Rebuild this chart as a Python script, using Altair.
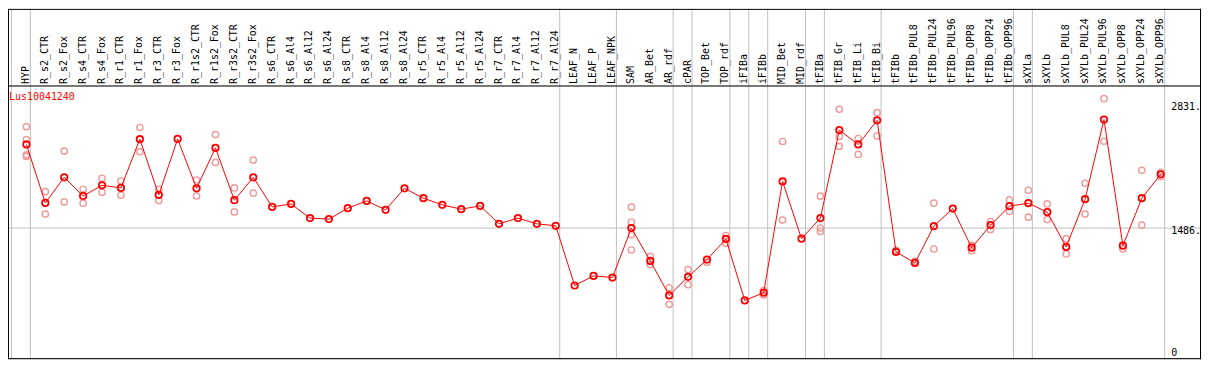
import altair as alt
import pandas as pd

gene_id = "Lus10041240"

samples = [
    "HYP", "R_s2_CTR", "R_s2_Fox", "R_s4_CTR", "R_s4_Fox", "R_r1_CTR", "R_r1_Fox",
    "R_r3_CTR", "R_r3_Fox", "R_r1s2_CTR", "R_r1s2_Fox", "R_r3s2_CTR", "R_r3s2_Fox",
    "R_s6_CTR", "R_s6_Al4", "R_s6_Al12", "R_s6_Al24", "R_s8_CTR", "R_s8_Al4",
    "R_s8_Al12", "R_s8_Al24", "R_r5_CTR", "R_r5_Al4", "R_r5_Al12", "R_r5_Al24",
    "R_r7_CTR", "R_r7_Al4", "R_r7_Al12", "R_r7_Al24", "LEAF_N", "LEAF_P", "LEAF_NPK",
    "SAM", "AR_Bet", "AR_rdf", "cPAR", "TOP_Bet", "TOP_rdf", "iFIBa", "iFIBb",
    "MID_Bet", "MID_rdf", "tFIBa", "tFIB_Gr", "tFIB_Li", "tFIB_Bi", "tFIBb",
    "tFIBb_PUL8", "tFIBb_PUL24", "tFIBb_PUL96", "tFIBb_OPP8", "tFIBb_OPP24",
    "tFIBb_OPP96", "sXYLa", "sXYLb", "sXYLb_PUL8", "sXYLb_PUL24", "sXYLb_PUL96",
    "sXYLb_OPP8", "sXYLb_OPP24", "sXYLb_OPP96",
]

means = [
    2390, 1758, 2035, 1833, 1949, 1920, 2447, 1844, 2450, 1916,
    2353, 1787, 2035, 1715, 1747, 1594, 1583, 1701, 1780, 1683,
    1916, 1809, 1737, 1690, 1726, 1532, 1594, 1532, 1511, 865,
    969, 951, 1486, 1131, 758, 959, 1145, 1368, 704, 787,
    1990, 1371, 1594, 2546, 2390, 2651, 1228, 1109, 1507, 1697,
    1274, 1518, 1723, 1755, 1658, 1282, 1798, 2659, 1296, 1809, 2067,
]

replicates = [
    [2583, 2444, 2278, 2261], [1880, 1637], [2318, 1769], [1906, 1755], [2024, 1873],
    [1995, 1841], [2573, 2310], [1906, 1783], [], [2006, 1833],
    [2497, 2196], [1920, 1661], [2221, 1863], [], [],
    [], [], [], [], [],
    [], [], [], [], [],
    [], [], [], [], [],
    [], [], [1712, 1551, 1414, 1249], [1180, 1091], [840, 661],
    [1037, 873], [1116], [1406, 1320], [], [811, 761],
    [2422, 1572], [], [1831, 1486, 1449], [2770, 2477, 2369], [2454, 2282],
    [2734, 2482], [1245], [1127], [1755, 1260], [],
    [1299, 1242], [1557, 1468], [1790, 1665], [1895, 1604], [1747, 1578],
    [1371, 1206], [1970, 1637], [2885, 2425], [1260], [2110, 1518], [2089, 2041],
]

group_ends = ["HYP", "R_r7_Al24", "LEAF_NPK", "AR_rdf", "cPAR", "TOP_rdf", "iFIBa",
              "iFIBb", "MID_rdf", "tFIBa", "tFIB_Bi", "tFIBb_OPP96", "sXYLa", "sXYLb_OPP96"]

grid_values = [1486]
ytick_top_values = [2831, 1486]
ytick_top_labels = ["2831.", "1486."]
ytick_bottom_values = [0]
ytick_bottom_labels = ["0"]

# ---- tables ----
mean_df = pd.DataFrame({"sample": samples, "idx": list(range(len(samples))), "value": means})
rep_df = pd.DataFrame(
    [{"sample": s, "value": v} for s, reps in zip(samples, replicates) for v in reps]
)
sep_df = pd.DataFrame({"sample": group_ends})
first_df = pd.DataFrame({"sample": [samples[0]]})
grid_df = pd.DataFrame({"value": grid_values})
ytop_df = pd.DataFrame({"value": ytick_top_values, "label": ytick_top_labels})
ybot_df = pd.DataFrame({"value": ytick_bottom_values, "label": ytick_bottom_labels})
title_df = pd.DataFrame({"label": [gene_id]})
one = pd.DataFrame({"k": [0]})

W, H, HEAD = 1199, 275, 77
FONT = "DejaVu Sans Mono"
GRID = "#c0c0c0"
RED = "#ff0000"
PINK = "#ee9a9a"

xscale = alt.Scale(type="point", domain=samples, range=[18.5, 1158.5], padding=0)
yscale = alt.Scale(domain=[68.9, 3027.8], zero=False, nice=False, clamp=True)

x_axis = alt.Axis(
    orient="top", labelAngle=270, labelAlign="left", labelBaseline="alphabetic",
    labelOffset=2, labelPadding=2, ticks=False, domain=False, grid=False, title=None,
    labelFont=FONT, labelFontSize=10, labelColor="black", labelLimit=300,
    labelOverlap=False,
)


def xenc():
    return alt.X("sample:N", scale=xscale, axis=x_axis)


# vertical group separators through the header
seps = alt.Chart(sep_df).mark_rule(color=GRID, strokeWidth=1, xOffset=4).encode(
    x=xenc(), y=alt.value(-HEAD), y2=alt.value(H),
)
first_sep = alt.Chart(first_df).mark_rule(color=GRID, strokeWidth=1, xOffset=-15).encode(
    x=xenc(), y=alt.value(-HEAD), y2=alt.value(H),
)
grid = alt.Chart(grid_df).mark_rule(color=GRID, strokeWidth=1).encode(
    y=alt.Y("value:Q", scale=yscale, axis=None),
    x=alt.value(0), x2=alt.value(W),
)

# frame
frame_top = alt.Chart(one).mark_rule(color="black").encode(
    x=alt.value(0), x2=alt.value(W), y=alt.value(-HEAD + 0.5))
frame_head = alt.Chart(one).mark_rule(color="black").encode(
    x=alt.value(0), x2=alt.value(W), y=alt.value(0.5))
frame_bottom = alt.Chart(one).mark_rule(color="black").encode(
    x=alt.value(0), x2=alt.value(W), y=alt.value(H - 0.5))
frame_left = alt.Chart(one).mark_rule(color="black").encode(
    x=alt.value(0.5), y=alt.value(-HEAD), y2=alt.value(H))
frame_right = alt.Chart(one).mark_rule(color="black").encode(
    x=alt.value(W - 0.5), y=alt.value(-HEAD), y2=alt.value(H))

reps = alt.Chart(rep_df).mark_point(
    shape="circle", filled=False, color=PINK, size=40, strokeWidth=1.4, opacity=1
).encode(
    x=xenc(),
    y=alt.Y("value:Q", scale=yscale, axis=None),
)

line = alt.Chart(mean_df).mark_line(color=RED, strokeWidth=1).encode(
    x=xenc(),
    y=alt.Y("value:Q", scale=yscale, axis=None),
    order=alt.Order("idx:Q"),
)

mean_pts = alt.Chart(mean_df).mark_point(
    shape="circle", filled=False, color=RED, size=42, strokeWidth=1.8, opacity=1
).encode(
    x=xenc(),
    y=alt.Y("value:Q", scale=yscale, axis=None),
)

ytop = alt.Chart(ytop_df).mark_text(
    align="left", baseline="top", dy=-2, font=FONT, fontSize=10, color="black"
).encode(
    y=alt.Y("value:Q", scale=yscale, axis=None),
    x=alt.value(1169), text="label:N",
)
ybot = alt.Chart(ybot_df).mark_text(
    align="left", baseline="bottom", dy=-1, font=FONT, fontSize=10, color="black"
).encode(
    y=alt.Y("value:Q", scale=yscale, axis=None),
    x=alt.value(1169), text="label:N",
)

title = alt.Chart(title_df).mark_text(
    align="left", baseline="middle", font=FONT, fontSize=10, color=RED
).encode(x=alt.value(1), y=alt.value(12), text="label:N")

chart = alt.layer(
    seps, first_sep, grid, frame_top, frame_head, frame_bottom, frame_left, frame_right,
    reps, line, mean_pts, ytop, ybot, title,
).properties(
    width=W, height=H,
    autosize=alt.AutoSizeParams(type="none"),
    padding={"left": 0, "top": HEAD, "right": 0, "bottom": 0},
).configure_view(stroke=None).configure(background="white")

chart.save("out.html", embed_options={"renderer": "svg", "actions": False})
